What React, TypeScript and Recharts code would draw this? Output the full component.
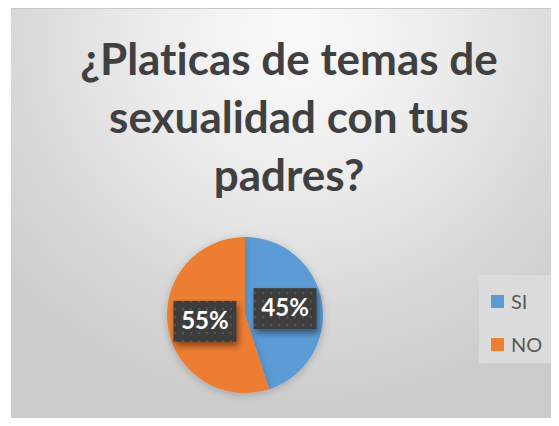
import { PieChart, Pie, Cell, Legend } from "recharts";

const categories = ["SI", "NO"];
const values = [45, 55];
const colors = ["#5B9BD5", "#ED7D31"];
const titleLines = ["¿Platicas de temas de", "sexualidad con tus", "padres?"];

const data = categories.map((name, i) => ({ name, value: values[i] }));

const RADIAN = Math.PI / 180;

const renderLabel = (props: any) => {
  const { cx, cy, midAngle, outerRadius, percent } = props;
  const r = outerRadius * 0.52;
  const x = cx + r * Math.cos(-midAngle * RADIAN);
  const y = cy + r * Math.sin(-midAngle * RADIAN);
  const w = 63;
  const h = 41;
  return (
    <g>
      <rect
        x={x - w / 2}
        y={y - h / 2}
        width={w}
        height={h}
        fill="url(#dots)"
        filter="url(#boxShadow)"
      />
      <text
        x={x}
        y={y + 1}
        fill="#fff"
        textAnchor="middle"
        dominantBaseline="middle"
        fontSize={24}
        fontWeight="bold"
        fontFamily="Lato, 'Open Sans', sans-serif"
      >
        {`${Math.round(percent * 100)}%`}
      </text>
    </g>
  );
};

const LegendContent = () => (
  <div
    style={{
      background: "#dcdcdc",
      width: 75,
      height: 88,
      padding: "16px 0 0 12px",
      boxSizing: "border-box",
      fontFamily: "Lato, 'Open Sans', sans-serif",
      fontSize: 20,
      color: "#595959",
    }}
  >
    {categories.map((c, i) => (
      <div
        key={c}
        style={{ display: "flex", alignItems: "center", height: 20, marginBottom: 23 }}
      >
        <span
          style={{
            width: 13,
            height: 13,
            background: colors[i],
            display: "inline-block",
            marginRight: 7,
          }}
        />
        {c}
      </div>
    ))}
  </div>
);

export default function App() {
  return (
    <div
      style={{
        position: "relative",
        marginLeft: 3,
        width: 548,
        height: 410,
        background:
          "radial-gradient(ellipse 72% 95% at 52% 6%, #fbfbfb 0%, #ececec 38%, #d8d8d8 72%, #cbcbcb 100%)",
        borderTop: "1px solid #c8c8c8",
        boxSizing: "border-box",
      }}
    >
      <div
        style={{
          position: "absolute",
          left: 4,
          top: 20,
          width: 548,
          textAlign: "center",
          fontFamily: "Lato, 'Open Sans', sans-serif",
          fontWeight: "bold",
          fontSize: 44,
          lineHeight: "58px",
          color: "#404040",
          fontVariantLigatures: "none",
        }}
      >
        {titleLines.map((l) => (
          <div key={l}>{l}</div>
        ))}
      </div>
      <PieChart
        width={548}
        height={409}
        margin={{ top: 0, right: 0, bottom: 0, left: 0 }}
        style={{ position: "absolute", left: 0, top: 0 }}
      >
        <defs>
          <pattern id="dots" width="8" height="8" patternUnits="userSpaceOnUse">
            <rect width="8" height="8" fill="#3c3c3c" />
            <circle cx="4" cy="4" r="1.2" fill="#555" />
          </pattern>
          <filter id="boxShadow" x="-30%" y="-30%" width="160%" height="180%">
            <feDropShadow dx="2" dy="4" stdDeviation="3" floodColor="#000" floodOpacity="0.45" />
          </filter>
          <filter id="pieShadow" x="-20%" y="-20%" width="140%" height="140%">
            <feDropShadow dx="0" dy="2" stdDeviation="4" floodColor="#000" floodOpacity="0.2" />
          </filter>
        </defs>
        <Pie
          data={data}
          dataKey="value"
          nameKey="name"
          cx={234}
          cy={306}
          outerRadius={78}
          startAngle={90}
          endAngle={-270}
          stroke="none"
          label={renderLabel}
          labelLine={false}
          isAnimationActive={false}
          style={{ filter: "url(#pieShadow)" }}
        >
          {data.map((d, i) => (
            <Cell key={d.name} fill={colors[i]} />
          ))}
        </Pie>
        <Legend
          content={<LegendContent />}
          layout="vertical"
          align="right"
          verticalAlign="top"
          wrapperStyle={{ position: "absolute", left: 468, top: 266, width: 75 }}
        />
      </PieChart>
    </div>
  );
}
